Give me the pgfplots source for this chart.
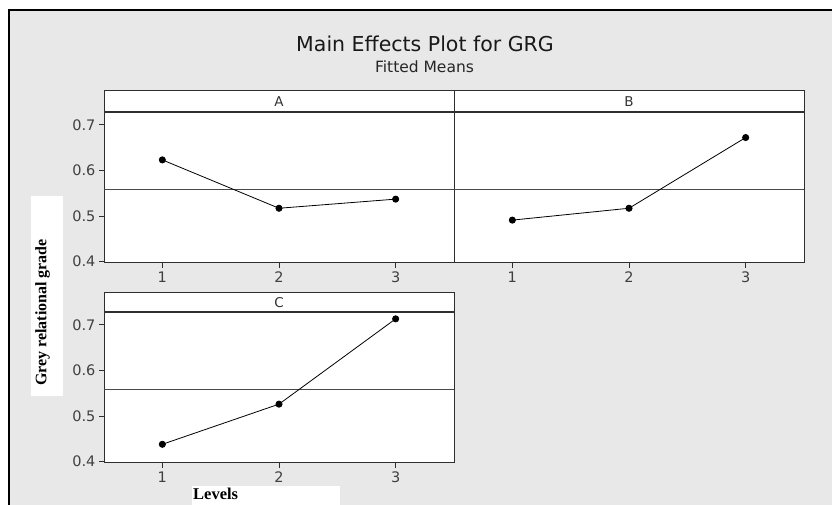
\documentclass[border=0pt]{standalone}
\usepackage{fontspec}
\setmainfont{DejaVu Sans}
\newfontfamily\labfont{Liberation Serif}
\usepackage{pgfplots}
\pgfplotsset{compat=1.18}
\definecolor{bggrey}{HTML}{E8E8E8}
\definecolor{axgrey}{HTML}{2E2E2E}
\definecolor{refgrey}{HTML}{484848}
\pgfplotsset{panel/.style={
  scale only axis, width=350pt, height=151pt, anchor=south west,
  xmin=0.5, xmax=3.5, ymin=0.397, ymax=0.728,
  xtick={1,2,3}, xticklabels={1,2,3},
  ytick={0.4,0.5,0.6,0.7},
  tick align=outside, xtick pos=bottom, ytick pos=left,
  major tick length=5pt,
  axis line style={axgrey, line width=1pt},
  tick style={axgrey, line width=0.8pt},
  axis background/.style={fill=white},
  ticklabel style={font=\fontsize{14.5}{16}\selectfont, text=black!75},
  /pgf/number format/.cd, fixed, fixed zerofill, precision=1, assume math mode=true, /pgfplots/.cd,
  clip=false,
},
dataline/.style={black, line width=0.8pt, mark=*, mark size=3.1pt, mark options={fill=black}},
refline/.style={refgrey, line width=0.9pt},
}
\begin{document}
\begin{tikzpicture}
\useasboundingbox (0pt,0pt) rectangle (832pt,505pt);
\clip (0pt,0pt) rectangle (832pt,505pt);
% background
\fill[bggrey] (9pt,0pt) rectangle (832pt,495pt);
\draw[black, line width=1.5pt] (9pt,-1pt) -- (9pt,495pt) -- (833pt,495pt);
% titles
\node[anchor=base, font=\fontsize{20.5}{24}\selectfont, text=black!90] at (425pt,453.3pt) {Main Effects Plot for GRG};
\node[anchor=base, font=\fontsize{15.5}{18}\selectfont, text=black!85] at (424.5pt,432.3pt) {Fitted Means};
% y label box
\fill[white] (31pt,109pt) rectangle (63pt,309pt);
\node[rotate=90, inner sep=0pt, font=\labfont\bfseries\fontsize{16}{18}\selectfont] at (42.5pt,192.5pt) {Grey relational grade};
% levels box
\fill[white] (192pt,0pt) rectangle (340pt,19pt);
\node[anchor=base west, inner sep=0pt, font=\labfont\bfseries\fontsize{16.5}{18}\selectfont] at (193pt,5pt) {Levels};

% Panel A
\begin{axis}[panel, at={(104pt,242pt)}]
\addplot[refline] coordinates {(0.5,0.559) (3.5,0.559)};
\addplot[dataline] coordinates {(1,0.623) (2,0.517) (3,0.537)};
\end{axis}
% Panel B
\begin{axis}[panel, at={(454pt,242pt)}, ytick=\empty]
\addplot[refline] coordinates {(0.5,0.559) (3.5,0.559)};
\addplot[dataline] coordinates {(1,0.491) (2,0.517) (3,0.672)};
\end{axis}
% Panel C
\begin{axis}[panel, at={(104pt,42pt)}]
\addplot[refline] coordinates {(0.5,0.559) (3.5,0.559)};
\addplot[dataline] coordinates {(1,0.438) (2,0.526) (3,0.713)};
\end{axis}

% strips
\draw[draw=axgrey, fill=white, line width=1pt] (104pt,393pt) rectangle (804pt,414pt);
\draw[draw=axgrey, line width=1pt] (454pt,393pt) -- (454pt,414pt);
\draw[draw=axgrey, line width=1.2pt] (104pt,393pt) -- (804pt,393pt);
\node[font=\fontsize{13.5}{15}\selectfont, text=black!80] at (279pt,403.5pt) {A};
\node[font=\fontsize{13.5}{15}\selectfont, text=black!80] at (629pt,403.5pt) {B};
\draw[draw=axgrey, fill=white, line width=1pt] (104pt,193pt) rectangle (454pt,212pt);
\draw[draw=axgrey, line width=1.2pt] (104pt,193pt) -- (454pt,193pt);
\node[font=\fontsize{13.5}{15}\selectfont, text=black!80] at (279pt,202.5pt) {C};
\end{tikzpicture}
\end{document}
